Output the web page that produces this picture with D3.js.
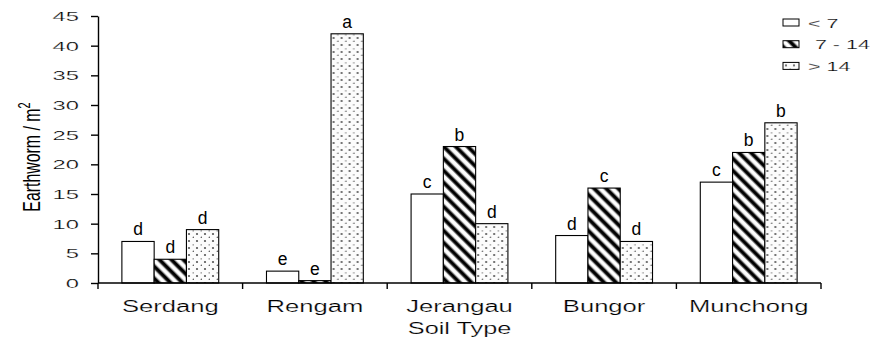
<!DOCTYPE html>
<html>
<head>
<meta charset="utf-8">
<script src="https://cdn.jsdelivr.net/npm/d3@7"></script>
<style>
  html, body { margin: 0; padding: 0; background: #fff; }
  svg { display: block; }
  text { font-family: "Liberation Sans", Arial, sans-serif; fill: #000; }
  text.wide { stroke: #fff; stroke-width: 0.22; }
</style>
</head>
<body>
<svg id="chart" width="879" height="341"></svg>
<script>
// Earthworm density per soil type, by class
const soils = ["Serdang", "Rengam", "Jerangau", "Bungor", "Munchong"];
const classes = ["< 7", "7 - 14", "> 14"];
const lt7 = [7, 2, 15, 8, 17];
const mid7to14 = [4, 0.4, 23, 16, 22];
const gt14 = [9, 42, 10, 7, 27];
const letters = [
  ["d", "d", "d"],
  ["e", "e", "a"],
  ["c", "b", "d"],
  ["d", "c", "d"],
  ["c", "b", "b"]
];
const yTicks = [0, 5, 10, 15, 20, 25, 30, 35, 40, 45];

const seriesValues = [lt7, mid7to14, gt14];
const rows = soils.map((s, i) => ({
  soil: s,
  bars: classes.map((c, j) => ({ cls: c, k: j, value: seriesValues[j][i], letter: letters[i][j] }))
}));

const svg = d3.select("#chart");
const plotLeft = 98, plotRight = 821, plotTop = 16, plotBottom = 283;

const x0 = d3.scaleBand().domain(soils).range([plotLeft, plotRight]).paddingInner(0).paddingOuter(0);
const x1 = d3.scaleBand().domain(classes).range([0, x0.bandwidth()]).paddingInner(0).paddingOuter(0.74);
const y = d3.scaleLinear().domain([0, 45]).range([plotBottom, plotTop]);

// Fill patterns
const defs = svg.append("defs");
const grad = defs.append("linearGradient").attr("id", "stripeGrad")
  .attr("x1", "0").attr("y1", "0").attr("x2", "1").attr("y2", "0");
[[0, "#fff"], [0.16, "#fff"], [0.4, "#000"], [0.62, "#000"], [0.86, "#fff"], [1, "#fff"]]
  .forEach(([o, c]) => grad.append("stop").attr("offset", o).attr("stop-color", c));
const hatch = defs.append("pattern").attr("id", "hatch")
  .attr("patternUnits", "userSpaceOnUse").attr("width", 8.5).attr("height", 8.5)
  .attr("patternTransform", "rotate(-45)");
hatch.append("rect").attr("width", 8.5).attr("height", 8.5).attr("fill", "url(#stripeGrad)");

const dots = defs.append("pattern").attr("id", "dots")
  .attr("patternUnits", "userSpaceOnUse").attr("width", 8).attr("height", 14);
dots.append("rect").attr("width", 8).attr("height", 14).attr("fill", "#fcfcfc");
dots.append("circle").attr("cx", 3).attr("cy", 3).attr("r", 1.1).attr("fill", "#555");
dots.append("circle").attr("cx", 3).attr("cy", 10).attr("r", 1.1).attr("fill", "#555");
dots.append("rect").attr("x", 6.5).attr("y", 6.4).attr("width", 2).attr("height", 1).attr("fill", "#777");
dots.append("circle").attr("cx", 7.5).attr("cy", 13.5).attr("r", 0.9).attr("fill", "#666");

const fills = ["#fff", "url(#hatch)", "url(#dots)"];

// Bars
const groups = svg.append("g").selectAll("g").data(rows).join("g")
  .attr("transform", d => `translate(${x0(d.soil)},0)`);

groups.selectAll("rect").data(d => d.bars).join("rect")
  .attr("x", d => x1(d.cls))
  .attr("y", d => y(d.value))
  .attr("width", x1.bandwidth())
  .attr("height", d => y(0) - y(d.value))
  .attr("fill", d => fills[d.k])
  .attr("stroke", "#000")
  .attr("stroke-width", 1.1);

groups.selectAll("text.letter").data(d => d.bars).join("text")
  .attr("class", "letter")
  .attr("x", d => x1(d.cls) + x1.bandwidth() / 2)
  .attr("y", d => y(d.value) - 6)
  .attr("text-anchor", "middle")
  .attr("font-size", 17.5)
  .text(d => d.letter);

// Y axis
const yAxis = svg.append("g").attr("transform", `translate(${plotLeft},0)`)
  .call(d3.axisLeft(y).tickValues(yTicks).tickSize(7).tickSizeOuter(0).tickFormat(d3.format("d")));
yAxis.selectAll("path, line").attr("stroke", "#000").attr("stroke-width", 1.4);
yAxis.selectAll("text")
  .attr("class", "wide")
  .attr("x", 0).attr("dy", "0.36em")
  .attr("font-size", 12.5)
  .attr("font-family", "Liberation Sans, Arial, sans-serif")
  .attr("text-anchor", "end")
  .attr("transform", "translate(-19,0) scale(1.9,1)");

// X axis: baseline with ticks at category boundaries
const bounds = soils.map(s => x0(s)).concat([x0.range()[1]]);
svg.append("line")
  .attr("x1", plotLeft).attr("x2", plotRight).attr("y1", y(0)).attr("y2", y(0))
  .attr("stroke", "#000").attr("stroke-width", 1.4);
svg.append("g").selectAll("line").data(bounds).join("line")
  .attr("x1", d => d).attr("x2", d => d)
  .attr("y1", y(0)).attr("y2", y(0) + 6)
  .attr("stroke", "#000").attr("stroke-width", 1.4);

svg.append("g").selectAll("text").data(soils).join("text")
  .attr("class", "wide")
  .attr("text-anchor", "middle")
  .attr("font-size", 16)
  .attr("transform", d => `translate(${x0(d) + x0.bandwidth() / 2},312) scale(1.6,1)`)
  .text(d => d);

// Axis titles
svg.append("text")
  .attr("class", "wide")
  .attr("text-anchor", "middle")
  .attr("font-size", 16)
  .attr("transform", `translate(${(plotLeft + plotRight) / 2},334) scale(1.58,1)`)
  .text("Soil Type");

const yTitle = svg.append("text")
  .attr("text-anchor", "middle")
  .attr("font-size", 23)
  .attr("transform", "translate(40,157) rotate(-90) scale(0.69,1)");
yTitle.append("tspan").text("Earthworm / m");
yTitle.append("tspan").attr("dy", "-0.6em").attr("font-size", 16).text("2");

// Legend
const legend = svg.append("g").selectAll("g").data(classes).join("g")
  .attr("transform", (d, i) => `translate(783,${19 + i * 21.7})`);
legend.append("rect")
  .attr("width", 16).attr("height", 7)
  .attr("fill", (d, i) => fills[i])
  .attr("stroke", "#000").attr("stroke-width", 1);
legend.append("text")
  .attr("class", "wide")
  .attr("font-size", 13)
  .attr("transform", (d, i) => `translate(${i === 1 ? 32 : 25},8.5) scale(1.65,1)`)
  .text(d => d);
</script>
</body>
</html>
